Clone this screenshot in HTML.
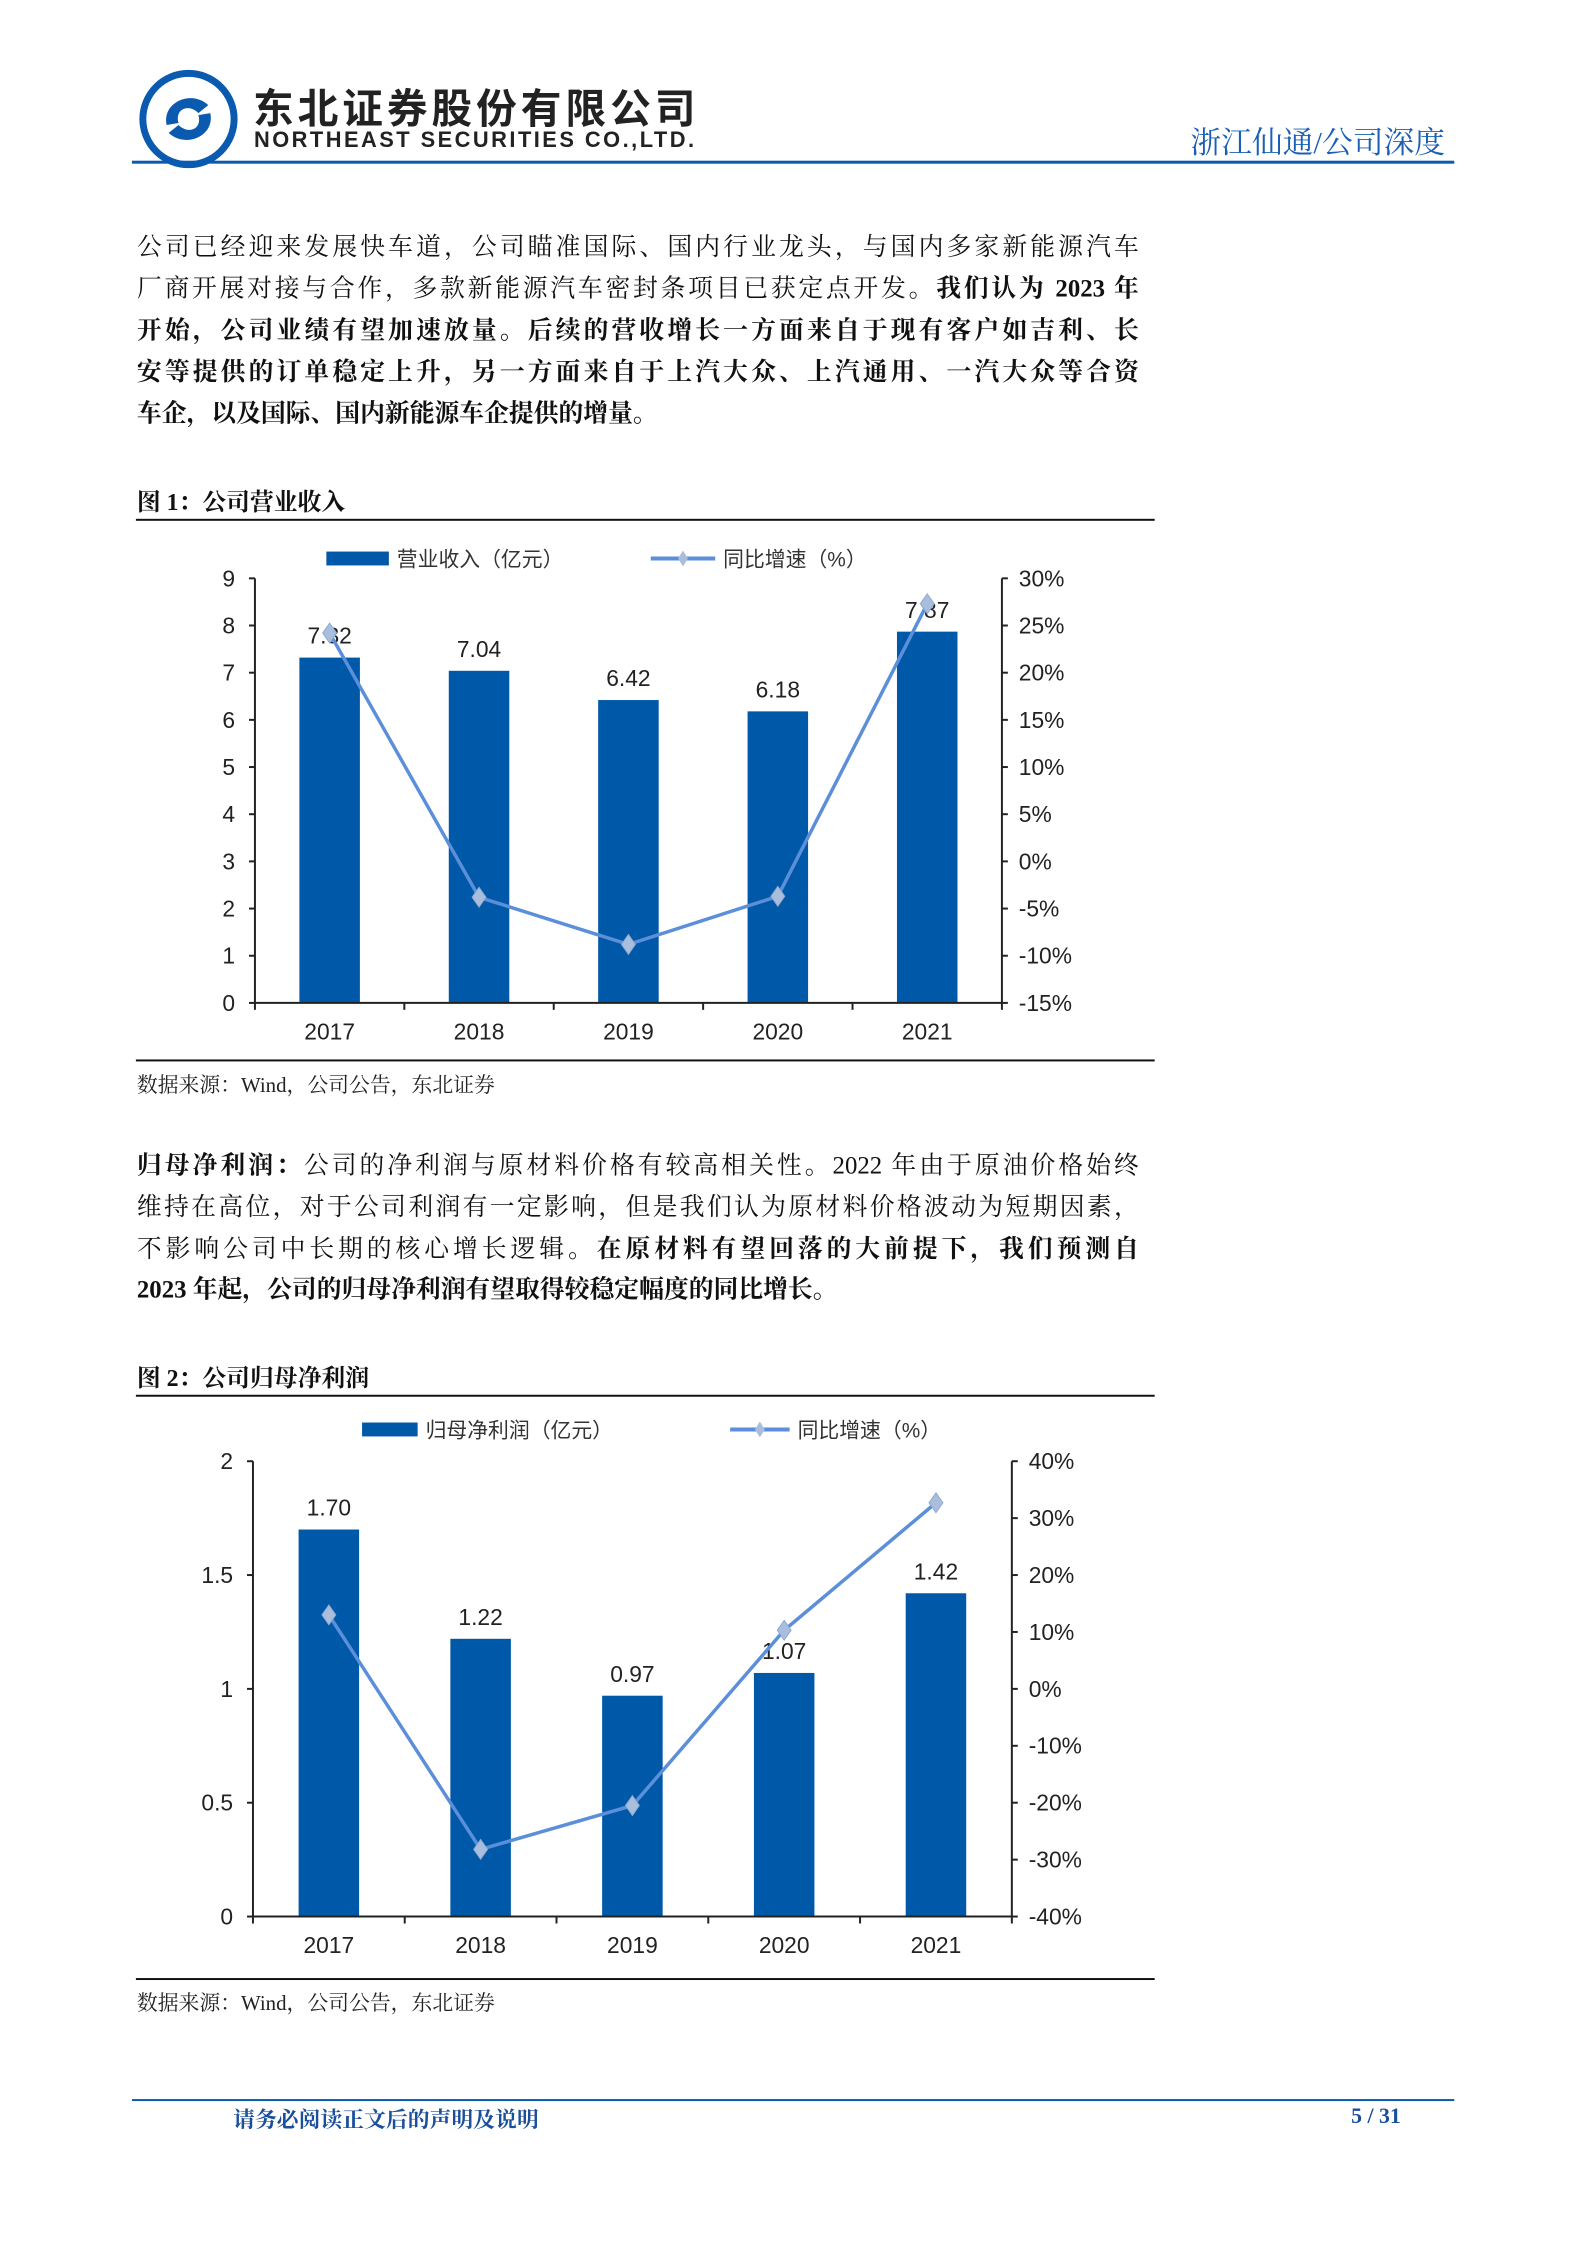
<!DOCTYPE html>
<html><head><meta charset="utf-8">
<style>
body{margin:0;background:#fff;}
#outer{position:relative;width:1587px;height:2245px;overflow:hidden;background:#fff;}
#page{position:absolute;left:0;top:0;width:1587px;height:2245px;transform:scale(0.992);transform-origin:0 0;font-family:"Liberation Serif","Noto Serif CJK SC",serif;color:#111;}
.ln{position:absolute;left:138px;width:1010px;font-size:25px;line-height:30px;white-space:nowrap;text-align:justify;text-align-last:justify;}
.ln.last{text-align-last:left;}
.cap{position:absolute;left:138px;font-size:24px;font-weight:bold;}
.src{position:absolute;left:138px;font-size:21px;color:#222;}
.rule{position:absolute;left:137px;width:1027px;height:2px;background:#111;}
svg text{font-family:"Liberation Sans","Noto Sans CJK SC",sans-serif;}
</style></head>
<body>
<div id="outer">
<div id="page">
<svg style="position:absolute;left:138px;top:68px" width="104" height="104" viewBox="0 0 104 104">
<circle cx="52" cy="52" r="46" fill="none" stroke="#0a5bb0" stroke-width="7"/>
<path d="M30 58 C25 35,55 22,72 38 L62 46 C52 36,38 42,42 56 Z" fill="#0a5bb0"/>
<path d="M74 46 C79 69,49 82,32 66 L42 58 C52 68,66 62,62 48 Z" fill="#0a5bb0"/>
</svg>
<div style="position:absolute;left:255px;top:76px;font:bold 41px 'Liberation Sans','Noto Sans CJK SC',sans-serif;color:#222;letter-spacing:4px">东北证券股份有限公司</div>
<div style="position:absolute;left:256px;top:128px;font:bold 22px 'Liberation Sans',sans-serif;color:#222;letter-spacing:2.5px">NORTHEAST SECURITIES CO.,LTD.</div>
<div style="position:absolute;left:1200px;top:118px;font-size:31px;color:#1a5fb4;font-family:'Liberation Serif','Noto Serif CJK SC',serif">浙江仙通/公司深度</div>
<div style="position:absolute;left:133px;top:162px;width:1333px;height:3px;background:#0a5bb0"></div>

<div class="ln" style="top:235px">公司已经迎来发展快车道，公司瞄准国际、国内行业龙头，与国内多家新能源汽车</div>
<div class="ln" style="top:277px">厂商开展对接与合作，多款新能源汽车密封条项目已获定点开发。<b>我们认为 2023 年</b></div>
<div class="ln" style="top:319px;font-weight:bold">开始，公司业绩有望加速放量。后续的营收增长一方面来自于现有客户如吉利、长</div>
<div class="ln" style="top:361px;font-weight:bold">安等提供的订单稳定上升，另一方面来自于上汽大众、上汽通用、一汽大众等合资</div>
<div class="ln last" style="top:403px;font-weight:bold">车企，以及国际、国内新能源车企提供的增量。</div>

<div class="cap" style="top:486px">图 1：公司营业收入</div>
<div class="rule" style="top:523px"></div>
<div class="rule" style="top:1068px"></div>
<div class="src" style="top:1078px">数据来源：Wind，公司公告，东北证券</div>

<div class="ln" style="top:1161px"><b>归母净利润：</b>公司的净利润与原材料价格有较高相关性。2022 年由于原油价格始终</div>
<div class="ln" style="top:1203px">维持在高位，对于公司利润有一定影响，但是我们认为原材料价格波动为短期因素，</div>
<div class="ln" style="top:1245px">不影响公司中长期的核心增长逻辑。<b>在原材料有望回落的大前提下，我们预测自</b></div>
<div class="ln last" style="top:1286px;font-weight:bold">2023 年起，公司的归母净利润有望取得较稳定幅度的同比增长。</div>

<div class="cap" style="top:1369px">图 2：公司归母净利润</div>
<div class="rule" style="top:1406px"></div>
<div class="rule" style="top:1994px"></div>
<div class="src" style="top:2003px">数据来源：Wind，公司公告，东北证券</div>

<div style="position:absolute;left:133px;top:2116px;width:1333px;height:2px;background:#0a5bb0"></div>
<div style="position:absolute;left:235px;top:2120px;font-size:22px;font-weight:bold;color:#1a4f9c">请务必阅读正文后的声明及说明</div>
<div style="position:absolute;left:1362px;top:2120px;font-size:22px;font-weight:bold;color:#1a4f9c">5 / 31</div>

<svg id="chart1" style="position:absolute;left:0;top:0" width="1587" height="2245"></svg>
</div>
</div>
<script>
const years = ["2017","2018","2019","2020","2021"];
const revenue = [7.32,7.04,6.42,6.18,7.87];
const revenueLabels = ["7.32","7.04","6.42","6.18","7.87"];
const revenueGrowth = [24.2,-3.8,-8.8,-3.7,27.3];
const rev1LeftTicks = [0,1,2,3,4,5,6,7,8,9];
const rev1LeftTickLabels = ["0","1","2","3","4","5","6","7","8","9"];
const rev1RightTicks = [-15,-10,-5,0,5,10,15,20,25,30];
const rev1RightTickLabels = ["-15%","-10%","-5%","0%","5%","10%","15%","20%","25%","30%"];

const profit = [1.70,1.22,0.97,1.07,1.42];
const profitLabels = ["1.70","1.22","0.97","1.07","1.42"];
const profitGrowth = [13.0,-28.2,-20.5,10.3,32.7];
const prof2LeftTicks = [0,0.5,1,1.5,2];
const prof2LeftTickLabels = ["0","0.5","1","1.5","2"];
const prof2RightTicks = [-40,-30,-20,-10,0,10,20,30,40];
const prof2RightTickLabels = ["-40%","-30%","-20%","-10%","0%","10%","20%","30%","40%"];

const NS="http://www.w3.org/2000/svg";
const svg=document.getElementById('chart1');
function mk(tag,attrs,parent){const e=document.createElementNS(NS,tag);for(const k in attrs)e.setAttribute(k,attrs[k]);(parent||svg).appendChild(e);return e;}

function draw(c){
  const g=mk('g',{});
  
  
  const yL=v=>c.bottom-(v-c.lMin)/(c.lMax-c.lMin)*(c.bottom-c.top);
  const yR=v=>c.bottom-(v-c.rMin)/(c.rMax-c.rMin)*(c.bottom-c.top);
  const n=c.cats.length, bw=(c.right-c.left)/n;
  const xC=i=>c.left+bw*(i+0.5);
  c.bars.forEach((v,i)=>{
    const r=mk('rect',{x:xC(i)-c.barW/2,y:yL(v),width:c.barW,height:c.bottom-yL(v),fill:'#0058a8'},g);
    
    
  });
  mk('line',{x1:c.left,y1:c.top,x2:c.left,y2:c.bottom,stroke:'#222','stroke-width':2},g);
  mk('line',{x1:c.right,y1:c.top,x2:c.right,y2:c.bottom,stroke:'#222','stroke-width':2},g);
  mk('line',{x1:c.left,y1:c.bottom,x2:c.right,y2:c.bottom,stroke:'#222','stroke-width':2},g);
  c.lTicks.forEach((v,i)=>{
    mk('line',{x1:c.left-6,y1:yL(v),x2:c.left,y2:yL(v),stroke:'#222','stroke-width':2},g);
    const t=mk('text',{x:c.left-20,y:yL(v)+8,'text-anchor':'end','font-size':23,fill:'#222'},g);
    t.textContent=c.lLabels[i];
    
    
  });
  c.rTicks.forEach((v,i)=>{
    mk('line',{x1:c.right,y1:yR(v),x2:c.right+6,y2:yR(v),stroke:'#222','stroke-width':2},g);
    const t=mk('text',{x:c.right+17,y:yR(v)+8,'font-size':23,fill:'#222'},g);
    t.textContent=c.rLabels[i];
    
    
  });
  for(let i=0;i<=n;i++) mk('line',{x1:c.left+bw*i,y1:c.bottom,x2:c.left+bw*i,y2:c.bottom+7,stroke:'#222','stroke-width':2},g);
  c.cats.forEach((s,i)=>{
    const t=mk('text',{x:xC(i),y:c.bottom+37,'text-anchor':'middle','font-size':23,fill:'#222'},g);
    t.textContent=s;
    
    
  });
  c.bars.forEach((v,i)=>{
    const t=mk('text',{x:xC(i),y:yL(v)-14,'text-anchor':'middle','font-size':23,fill:'#222'},g);
    t.textContent=c.barLabels[i];
    
    
  });
  const pts=c.line.map((v,i)=>xC(i)+','+yR(v)).join(' ');
  const pl=mk('polyline',{points:pts,fill:'none',stroke:'#5b8fd9','stroke-width':3.5},g);
  
  
  c.line.forEach((v,i)=>{
    const x=xC(i),y=yR(v);
    const p=mk('polygon',{points:`${x},${y-10} ${x+7},${y} ${x},${y+10} ${x-7},${y}`,fill:'#a9bedc',stroke:'#8fa9cf','stroke-width':1},g);
    
    
  });
  const lg=mk('g',{},g);
  
  
  mk('rect',{x:c.lg.bx,y:c.lg.y-7,width:c.lg.bw,height:14,fill:'#0058a8'},lg);
  const t1=mk('text',{x:c.lg.bx+c.lg.bw+8,y:c.lg.y+8,'font-size':21,fill:'#333','font-family':"'Liberation Serif','Noto Serif CJK SC',serif"},lg);
  t1.textContent=c.lg.t1;
  mk('line',{x1:c.lg.lx,y1:c.lg.y,x2:c.lg.lx+c.lg.lw,y2:c.lg.y,stroke:'#5b8fd9','stroke-width':4},lg);
  const mx=c.lg.lx+c.lg.lw/2;
  mk('polygon',{points:`${mx},${c.lg.y-8} ${mx+5},${c.lg.y} ${mx},${c.lg.y+8} ${mx-5},${c.lg.y}`,fill:'#a9bedc'},lg);
  const t2=mk('text',{x:c.lg.lx+c.lg.lw+8,y:c.lg.y+8,'font-size':21,fill:'#333','font-family':"'Liberation Serif','Noto Serif CJK SC',serif"},lg);
  t2.textContent=c.lg.t2;
}
draw({name:'revenue-chart-plot',cats:years,bars:revenue,barLabels:revenueLabels,line:revenueGrowth,
  left:257,right:1010,top:583,bottom:1011,barW:61,lMin:0,lMax:9,rMin:-15,rMax:30,
  lTicks:rev1LeftTicks,lLabels:rev1LeftTickLabels,rTicks:rev1RightTicks,rLabels:rev1RightTickLabels,
  lg:{y:563,bx:329,bw:63,t1:'营业收入（亿元）',lx:656,lw:65,t2:'同比增速（%）'}});
draw({name:'profit-chart-plot',cats:years,bars:profit,barLabels:profitLabels,line:profitGrowth,
  left:255,right:1020,top:1473,bottom:1932,barW:61,lMin:0,lMax:2,rMin:-40,rMax:40,
  lTicks:prof2LeftTicks,lLabels:prof2LeftTickLabels,rTicks:prof2RightTicks,rLabels:prof2RightTickLabels,
  lg:{y:1441,bx:365,bw:56,t1:'归母净利润（亿元）',lx:736,lw:60,t2:'同比增速（%）'}});
</script>
</body></html>
